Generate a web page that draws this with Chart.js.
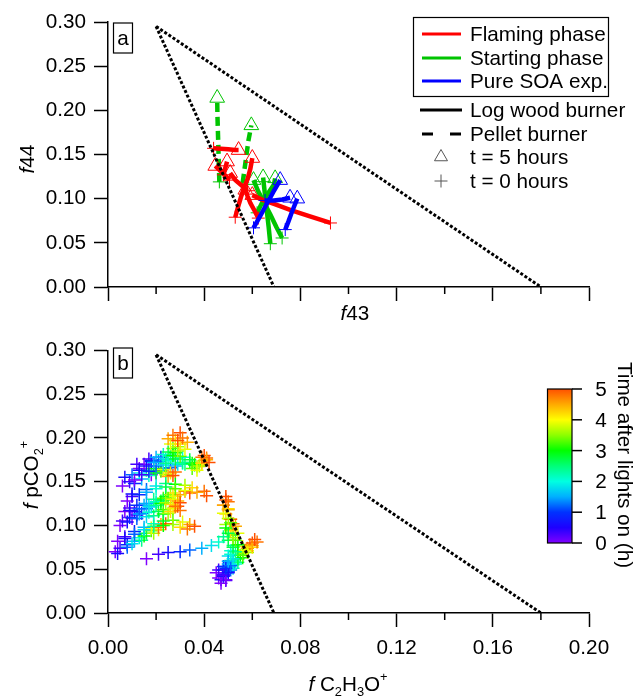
<!DOCTYPE html>
<html><head><meta charset="utf-8">
<script src="https://cdn.jsdelivr.net/npm/chart.js@4.4.1/dist/chart.umd.min.js"></script>
<style>
html,body{margin:0;padding:0;background:#fff;}
#wrap{position:relative;width:636px;height:696px;overflow:hidden;}
#ca{position:absolute;left:0;top:0;}
#cb{position:absolute;left:0;top:330px;}
</style></head><body>
<div id="wrap">
<canvas id="ca" width="636" height="330"></canvas>
<canvas id="cb" width="636" height="366"></canvas>
</div>
<script>
// ---------- tick values ----------
const xTicks = [0, 0.04, 0.08, 0.12, 0.16, 0.20];
const xMinorTicks = [0.02, 0.06, 0.10, 0.14, 0.18];
const yTicks = [0, 0.05, 0.10, 0.15, 0.20, 0.25, 0.30];
const cbarTicks = [0, 1, 2, 3, 4, 5];

// ---------- triangle (dotted) ----------
const triLeftX = [0.02, 0.069];
const triLeftY = [0.295, 0.0];
const triRightX = [0.02, 0.18];
const triRightY = [0.295, 0.0];

// ---------- panel a: experiments (t = 0 first, t = 5 last) ----------
const flamingLogX = [
  [0.0439, 0.0468, 0.0500, 0.0528, 0.0543],
  [0.0529, 0.0540, 0.0552, 0.0565, 0.0580, 0.0592, 0.0600],
  [0.0925, 0.0840, 0.0760, 0.0690, 0.0640, 0.0600],
  [0.0505, 0.0485, 0.0465, 0.0446],
  [0.0580, 0.0555, 0.0530, 0.0508],
  [0.0625, 0.0610, 0.0592, 0.0580, 0.0571],
  [0.0480, 0.0487, 0.0495]
];
const flamingLogY = [
  [0.157, 0.1565, 0.156, 0.155, 0.155],
  [0.079, 0.090, 0.101, 0.112, 0.122, 0.134, 0.146],
  [0.0725, 0.080, 0.087, 0.094, 0.099, 0.104],
  [0.121, 0.127, 0.132, 0.137],
  [0.109, 0.115, 0.121, 0.129],
  [0.078, 0.086, 0.095, 0.103, 0.110],
  [0.127, 0.134, 0.142]
];
const startingPelletX = [
  [0.0463, 0.0461, 0.0459, 0.0457, 0.0455, 0.0454],
  [0.0560, 0.0568, 0.0576, 0.0584, 0.0596]
];
const startingPelletY = [
  [0.119, 0.138, 0.157, 0.176, 0.195, 0.214],
  [0.118, 0.134, 0.150, 0.166, 0.183]
];
const startingLogX = [
  [0.0675, 0.0668, 0.0660, 0.0652, 0.0645],
  [0.0724, 0.0700, 0.0675, 0.0650, 0.0625, 0.0605],
  [0.0620, 0.0640, 0.0665, 0.0690, 0.0695]
];
const startingLogY = [
  [0.049, 0.068, 0.087, 0.106, 0.124],
  [0.0555, 0.068, 0.082, 0.095, 0.108, 0.121],
  [0.084, 0.095, 0.106, 0.116, 0.123]
];
const soaX = [
  [0.0605, 0.0632, 0.0660, 0.0688, 0.0716],
  [0.0653, 0.0690, 0.0725, 0.0757],
  [0.0737, 0.0750, 0.0762, 0.0775, 0.0787]
];
const soaY = [
  [0.067, 0.080, 0.094, 0.108, 0.121],
  [0.098, 0.098, 0.099, 0.101],
  [0.065, 0.074, 0.083, 0.092, 0.100]
];

// ---------- panel b: trajectories coloured by time ----------
const bTimes = [0, 0.3, 0.6, 0.9, 1.2, 1.5, 1.8, 2.1, 2.4, 2.7, 3.0, 3.3, 3.6, 3.9, 4.2, 4.5, 4.8, 5.0];
const bTrajX = [
  [.011,.014,.013,.017,.020,.019,.023,.025,.024,.028,.027,.030,.029,.032,.030,.033,.031,.029],
  [.013,.012,.016,.018,.021,.020,.024,.023,.026,.025,.028,.027,.029,.026,.028,.025,.027,.030],
  [.015,.017,.018,.022,.023,.026,.027,.031,.031,.034,.036,.035,.038,.037,.039,.041,.039,.042],
  [.008,.010,.010,.013,.016,.016,.020,.020,.024,.024,.028,.028,.032,.032,.035,.037,.040,.041],
  [.007,.009,.009,.012,.013,.016,.017,.020,.020,.023,.022,.025,.024,.027,.026,.029,.028,.030],
  [.004,.007,.007,.011,.011,.015,.015,.019,.019,.023,.023,.027,.027,.031,.030,.034,.033,.036],
  [.003,.005,.004,.008,.008,.011,.010,.013,.014,.016,.015,.018,.019,.018,.021,.022,.021,.024],
  [.016,.021,.025,.030,.034,.039,.043,.046,.048,.050,.049,.051,.050,.048,.050,.048,.050,.049],
  [.049,.048,.050,.049,.051,.050,.052,.051,.053,.052,.054,.053,.052,.054,.051,.053,.052,.051],
  [.045,.046,.048,.048,.050,.050,.052,.052,.054,.054,.056,.056,.058,.058,.060,.060,.062,.061],
  [.005,.006,.008,.009,.012,.013,.016,.017,.019,.021,.023,.023,.025,.027,.026,.028,.030,.029],
  [.047,.049,.048,.050,.049,.051,.050,.051,.052,.050,.052,.051,.049,.051,.049,.050,.048,.049],
  [.006,.009,.007,.011,.010,.014,.013,.017,.016,.020,.019,.022,.024,.023,.026,.025,.028,.027],
  [.010,.012,.011,.014,.016,.015,.018,.020,.019,.022,.024,.023,.026,.028,.027,.030,.032,.034],
  [.046,.048,.047,.049,.051,.050,.052,.053,.051,.054,.055,.054,.056,.057,.056,.058,.059,.060],
  [.018,.020,.022,.024,.026,.028,.029,.031,.032,.034,.035,.036,.037,.038,.039,.040,.041,.040]
];
const bTrajY = [
  [.152,.158,.163,.162,.168,.172,.169,.174,.171,.176,.180,.179,.185,.187,.193,.195,.200,.197],
  [.165,.170,.168,.174,.173,.178,.176,.181,.179,.184,.183,.188,.190,.193,.197,.199,.203,.206],
  [.170,.176,.173,.178,.175,.180,.176,.178,.172,.175,.169,.165,.168,.163,.171,.175,.178,.172],
  [.128,.133,.136,.135,.141,.138,.145,.142,.148,.144,.147,.142,.146,.140,.143,.138,.139,.134],
  [.116,.120,.117,.123,.119,.125,.122,.127,.123,.129,.125,.131,.126,.130,.124,.128,.122,.126],
  [.082,.087,.085,.093,.090,.098,.095,.102,.099,.105,.100,.106,.101,.104,.098,.101,.096,.099],
  [.070,.074,.068,.078,.075,.082,.079,.086,.083,.091,.088,.094,.091,.097,.095,.101,.098,.102],
  [.062,.067,.069,.070,.072,.074,.077,.081,.087,.091,.097,.103,.108,.114,.119,.123,.127,.133],
  [.038,.043,.046,.051,.054,.059,.062,.067,.070,.075,.078,.083,.086,.091,.094,.099,.102,.107],
  [.046,.049,.049,.053,.052,.056,.055,.059,.058,.062,.063,.066,.069,.071,.075,.077,.081,.084],
  [.100,.105,.104,.109,.108,.113,.110,.115,.111,.116,.113,.118,.114,.119,.116,.121,.117,.122],
  [.034,.037,.042,.047,.053,.058,.065,.071,.077,.083,.089,.095,.101,.107,.113,.118,.123,.129],
  [.145,.150,.155,.148,.158,.153,.160,.157,.163,.160,.165,.162,.158,.164,.160,.156,.161,.157],
  [.108,.112,.116,.114,.119,.123,.121,.126,.130,.128,.133,.131,.135,.133,.137,.135,.139,.137],
  [.040,.044,.038,.046,.049,.053,.051,.056,.060,.062,.066,.070,.068,.072,.076,.074,.078,.080],
  [.158,.160,.163,.165,.166,.168,.170,.171,.170,.172,.171,.170,.167,.169,.171,.174,.177,.180]
];

// ---------- styling ----------
const FONT = '"Liberation Sans", Arial, Helvetica, sans-serif';
const FS = 20.7;
const RED = '#ff0000', GREEN = '#00c400', BLUE = '#0000ff';
const cmapStops = [0, 0.5, 1, 1.5, 2, 2.5, 3, 3.5, 4, 4.5, 5];
const cmapRGB = [[128,0,255],[30,0,255],[0,50,255],[0,175,255],[0,255,225],[0,255,120],[0,255,0],[140,255,0],[255,255,0],[255,170,0],[255,80,0]];
function cmap(t){
  if (t <= cmapStops[0]) return 'rgb(' + cmapRGB[0].join(',') + ')';
  for (let i = 1; i < cmapStops.length; i++){
    if (t <= cmapStops[i]){
      const f = (t - cmapStops[i-1]) / (cmapStops[i] - cmapStops[i-1]);
      const a = cmapRGB[i-1], b = cmapRGB[i];
      return 'rgb(' + a.map((v,k)=>Math.round(v + (b[k]-v)*f)).join(',') + ')';
    }
  }
  return 'rgb(' + cmapRGB[cmapRGB.length-1].join(',') + ')';
}
function toPts(xs, ys){ return xs.map((x,i)=>({x:x, y:ys[i]})); }
function dotted(xs, ys){
  return {data: toPts(xs, ys), showLine:true, borderColor:'#000', borderWidth:3, borderDash:[3,2],
          pointRadius:0, pointHoverRadius:0, fill:false};
}
function expDataset(xs, ys, color, dashed){
  const n = xs.length;
  return {
    data: toPts(xs, ys), showLine:true, borderColor:color, borderWidth:4.5,
    borderDash: dashed ? [9,5] : [], fill:false, tension:0,
    pointStyle: c => c.dataIndex === 0 ? 'cross' : 'triangle',
    pointRadius: c => c.dataIndex === 0 ? 6.5 : (c.dataIndex === n-1 ? 8.5 : 0),
    pointHoverRadius: 0,
    pointBorderColor: color, pointBackgroundColor:'rgba(0,0,0,0)', pointBorderWidth:1
  };
}
function scalesCfg(showXLabels, xHeight){
  return {
    x: {
      type:'linear', min:0, max:0.2,
      afterBuildTicks: s => { s.ticks = xTicks.map(v => ({value:v})); },
      ticks:{display:showXLabels, autoSkip:false, maxRotation:0, color:'#000', padding:9,
             font:{family:FONT, size:FS}, callback: v => Number(v).toFixed(2)},
      grid:{display:true, drawOnChartArea:false, drawTicks:true, tickLength:14, tickWidth:1.5, tickColor:'#000'},
      border:{display:true, color:'#000', width:1.5},
      afterFit: s => { s.height = xHeight; }
    },
    y: {
      type:'linear', min:0, max:0.3,
      afterBuildTicks: s => { s.ticks = yTicks.map(v => ({value:v})); },
      ticks:{autoSkip:false, color:'#000', padding:8, font:{family:FONT, size:FS},
             callback: v => Number(v).toFixed(2)},
      grid:{display:true, drawOnChartArea:false, drawTicks:true, tickLength:14, tickWidth:1.5, tickColor:'#000'},
      border:{display:true, color:'#000', width:1.5},
      afterFit: s => { s.width = 108; }
    }
  };
}

// rich text: parts [{t, it, sub, sup}]
function partFont(p){ const sz = (p.sub||p.sup) ? FS*0.62 : FS; return (p.it?'italic ':'') + sz + 'px ' + FONT; }
function richWidth(ctx, parts){ let w=0; parts.forEach(p=>{ctx.font=partFont(p); w+=ctx.measureText(p.t).width;}); return w; }
function drawRich(ctx, parts, cx, baseline){
  let x = cx - richWidth(ctx, parts)/2;
  ctx.textAlign='left'; ctx.textBaseline='alphabetic'; ctx.fillStyle='#000';
  parts.forEach(p=>{
    ctx.font = partFont(p);
    let y = baseline;
    if (p.sub) y += FS*0.22;
    if (p.sup) y -= FS*0.5;
    ctx.fillText(p.t, x, y);
    x += ctx.measureText(p.t).width;
  });
}
function minorTicks(ctx, chart){
  const xs = chart.scales.x, y0 = chart.scales.y.getPixelForValue(0);
  ctx.save(); ctx.strokeStyle='#000'; ctx.lineWidth=1.5;
  xMinorTicks.forEach(v=>{ const px = xs.getPixelForValue(v); ctx.beginPath(); ctx.moveTo(px, y0); ctx.lineTo(px, y0+7); ctx.stroke(); });
  ctx.restore();
}
function panelLabel(ctx, txt, top){
  ctx.save(); ctx.strokeStyle='#000'; ctx.lineWidth=1.2; ctx.strokeRect(113.5, top, 19, 30);
  ctx.font = FS+'px '+FONT; ctx.fillStyle='#000'; ctx.textAlign='center'; ctx.textBaseline='alphabetic';
  ctx.fillText(txt, 123, top + 22); ctx.restore();
}

const legendLabels = ['Flaming phase','Starting phase','Pure SOA exp.','Log wood burner','Pellet burner','t = 5 hours','t = 0 hours'];
const legendRowY = [34, 58, 81, 110, 134, 157, 181];

const decorA = {
  id:'decorA',
  afterDraw(chart){
    const ctx = chart.ctx;
    minorTicks(ctx, chart);
    panelLabel(ctx, 'a', 23);
    // axis titles
    ctx.save(); ctx.translate(34, 159); ctx.rotate(-Math.PI/2);
    drawRich(ctx, [{t:'f', it:true},{t:'44'}], 0, 0); ctx.restore();
    ctx.save(); drawRich(ctx, [{t:'f', it:true},{t:'43'}], 355, 320); ctx.restore();
    // legend
    ctx.save();
    ctx.strokeStyle='#000'; ctx.lineWidth=1.2; ctx.strokeRect(413.5, 17.5, 195, 79);
    const cols = [RED, GREEN, BLUE];
    for (let i=0;i<3;i++){
      ctx.strokeStyle = cols[i]; ctx.lineWidth=3; ctx.setLineDash([]);
      ctx.beginPath(); ctx.moveTo(422, legendRowY[i]); ctx.lineTo(461, legendRowY[i]); ctx.stroke();
    }
    ctx.strokeStyle='#000'; ctx.lineWidth=3;
    ctx.beginPath(); ctx.moveTo(420, legendRowY[3]); ctx.lineTo(462, legendRowY[3]); ctx.stroke();
    ctx.beginPath(); ctx.moveTo(422, legendRowY[4]); ctx.lineTo(433, legendRowY[4]); ctx.moveTo(450, legendRowY[4]); ctx.lineTo(461, legendRowY[4]); ctx.stroke();
    ctx.lineWidth=1; ctx.fillStyle='rgba(0,0,0,0)'; ctx.strokeStyle='#555';
    Chart.helpers.drawPoint(ctx, {pointStyle:'triangle', radius:7.5, borderWidth:1}, 441, legendRowY[5]);
    Chart.helpers.drawPoint(ctx, {pointStyle:'cross', radius:6.5, borderWidth:1}, 441, legendRowY[6]);
    ctx.fillStyle='#000'; ctx.font = FS+'px '+FONT; ctx.textAlign='left'; ctx.textBaseline='alphabetic';
    legendLabels.forEach((s,i)=> ctx.fillText(s, 470, legendRowY[i] + 7));
    ctx.restore();
  }
};

const decorB = {
  id:'decorB',
  afterDraw(chart){
    const ctx = chart.ctx;
    minorTicks(ctx, chart);
    panelLabel(ctx, 'b', 18);
    ctx.save(); ctx.translate(38, 145); ctx.rotate(-Math.PI/2);
    drawRich(ctx, [{t:'f', it:true},{t:' pCO'},{t:'2', sub:true},{t:'+', sup:true}], 0, 0); ctx.restore();
    ctx.save(); drawRich(ctx, [{t:'f', it:true},{t:' C'},{t:'2', sub:true},{t:'H'},{t:'3', sub:true},{t:'O'},{t:'+', sup:true}], 348, 361); ctx.restore();
    // colour bar
    const L = 547.5, R = 572, T = 59, B = 213;
    ctx.save();
    const g = ctx.createLinearGradient(0, B, 0, T);
    cmapStops.forEach(s => g.addColorStop(s/5, cmap(s)));
    ctx.fillStyle = g; ctx.fillRect(L, T, R-L, B-T);
    ctx.strokeStyle='#000'; ctx.lineWidth=1.2; ctx.strokeRect(L, T, R-L, B-T);
    ctx.lineWidth=1.5; ctx.font = FS+'px '+FONT; ctx.fillStyle='#000'; ctx.textAlign='center'; ctx.textBaseline='alphabetic';
    cbarTicks.forEach(v=>{
      const py = B - v*(B-T)/5;
      ctx.beginPath(); ctx.moveTo(R, py); ctx.lineTo(R+10, py); ctx.stroke();
      ctx.fillText(String(v), 601, py + 7);
    });
    ctx.translate(618, 135); ctx.rotate(Math.PI/2);
    ctx.textAlign='center'; ctx.fillText('Time after lights on (h)', 0, 0);
    ctx.restore();
  }
};

// ---------- datasets ----------
const dsA = [dotted(triLeftX, triLeftY), dotted(triRightX, triRightY)];
soaX.forEach((xs,i)=> dsA.push(expDataset(xs, soaY[i], BLUE, false)));
flamingLogX.forEach((xs,i)=> dsA.push(expDataset(xs, flamingLogY[i], RED, false)));
startingLogX.forEach((xs,i)=> dsA.push(expDataset(xs, startingLogY[i], GREEN, false)));
startingPelletX.forEach((xs,i)=> dsA.push(expDataset(xs, startingPelletY[i], GREEN, true)));

const dsB = [dotted(triLeftX, triLeftY), dotted(triRightX, triRightY)];
bTrajX.forEach((xs,i)=>{
  const cols = bTimes.map(cmap);
  dsB.push({data: toPts(xs, bTrajY[i]), showLine:false, pointStyle:'cross', pointRadius:6.5,
            pointHoverRadius:0, pointBorderWidth:1.5, pointBorderColor:cols, pointBackgroundColor:cols});
});

const common = {
  responsive:false, animation:false, events:[],
  plugins:{legend:{display:false}, tooltip:{enabled:false}}
};

new Chart(document.getElementById('ca'), {
  type:'scatter',
  data:{datasets:dsA},
  options:Object.assign({}, common, {
    layout:{padding:{top:22, right:47, left:0, bottom:0}},
    scales: scalesCfg(false, 43)
  }),
  plugins:[decorA]
});
new Chart(document.getElementById('cb'), {
  type:'scatter',
  data:{datasets:dsB},
  options:Object.assign({}, common, {
    layout:{padding:{top:19, right:47, left:0, bottom:0}},
    scales: scalesCfg(true, 83)
  }),
  plugins:[decorB]
});
</script>
</body></html>
